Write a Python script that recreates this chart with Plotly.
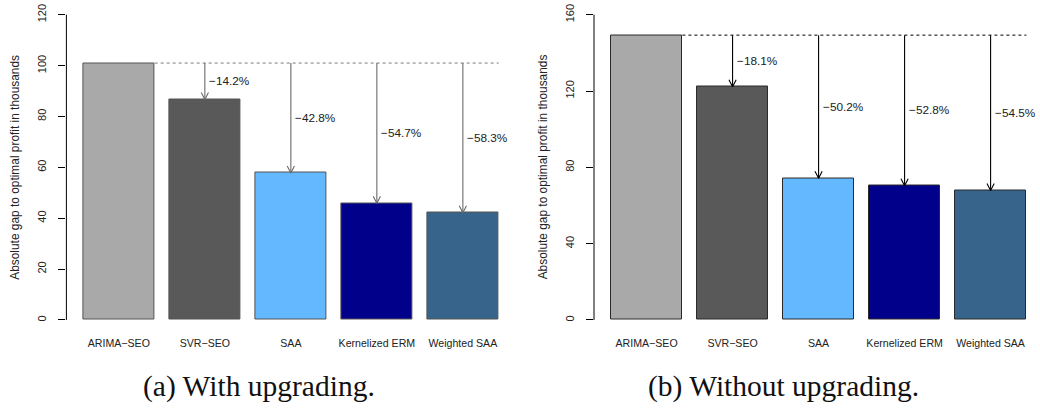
import plotly.graph_objects as go

# ---------------- data ----------------
categories = ["ARIMA\u2212SEO", "SVR\u2212SEO", "SAA", "Kernelized ERM", "Weighted SAA"]
values_a = [101.0, 86.7, 57.8, 45.9, 42.2]      # With upgrading
values_b = [149.3, 122.2, 74.3, 70.4, 67.9]     # Without upgrading
pct_a = ["\u221214.2%", "\u221242.8%", "\u221254.7%", "\u221258.3%"]
pct_b = ["\u221218.1%", "\u221250.2%", "\u221252.8%", "\u221254.5%"]
yticks_a = [0, 20, 40, 60, 80, 100, 120]
yticks_b = [0, 40, 80, 120, 160]
captions = ["(a) With upgrading.", "(b) Without upgrading."]
colors = ["#A9A9A9", "#595959", "#63B8FF", "#00008B", "#36648B"]

W, H = 1040, 419
PPU = 71.67                      # pixels per bar-unit (R barplot units)
xpos = [0.7 + 1.2 * i for i in range(len(categories))]

panels = [
    dict(vals=values_a, pct=pct_a, yt=yticks_a, dom=(66.4, 520.0), u0=68.67,
         yr=(-4.8, 124.8), line="#6a6a6a", dash="#7a7a7a", edge="#555555",
         cap=captions[0], capx=259),
    dict(vals=values_b, pct=pct_b, yt=yticks_b, dom=(594.0, 1040.0), u0=596.4,
         yr=(-6.4, 166.4), line="#000000", dash="#000000", edge="#2a2a2a",
         cap=captions[1], capx=783),
]

ytop_px, ybot_px = 2.5, 332.2
ydom = [(H - ybot_px) / H, (H - ytop_px) / H]
plot_h = ybot_px - ytop_px

fig = go.Figure()
annotations = []
shapes = []
layout_axes = {}

for k, p in enumerate(panels):
    sfx = "" if k == 0 else str(k + 1)
    xa, ya = "x" + sfx, "y" + sfx
    xr = [(p["dom"][0] - p["u0"]) / PPU, (p["dom"][1] - p["u0"]) / PPU]
    ppy = plot_h / (p["yr"][1] - p["yr"][0])   # px per y unit
    vals = p["vals"]
    top = vals[0]

    fig.add_trace(go.Bar(
        x=xpos, y=vals, width=1.0, xaxis=xa, yaxis=ya,
        marker=dict(color=colors, line=dict(color=p["edge"], width=1)),
        showlegend=False, hoverinfo="skip"))

    # dashed reference line at the ARIMA level
    fig.add_trace(go.Scatter(
        x=[xpos[0] + 0.5, xpos[-1] + 0.5], y=[top, top], mode="lines",
        line=dict(color=p["dash"], width=1, dash="3px,3px"),
        xaxis=xa, yaxis=ya, showlegend=False, hoverinfo="skip"))

    # arrows and percentage labels
    hw = 3.6 / PPU
    hl = 7.0 / ppy
    for i in range(1, len(vals)):
        cx, v = xpos[i], vals[i]
        fig.add_trace(go.Scatter(
            x=[cx, cx, None, cx - hw, cx, cx + hw],
            y=[top, v, None, v + hl, v, v + hl],
            mode="lines", line=dict(color=p["line"], width=1.1),
            xaxis=xa, yaxis=ya, showlegend=False, hoverinfo="skip"))
        annotations.append(dict(
            x=cx, y=(top + v) / 2, xref=xa, yref=ya, text=p["pct"][i - 1],
            showarrow=False, xanchor="left", yanchor="middle", xshift=2,
            font=dict(family="Liberation Sans, Arial", size=11.8, color="#222")))

    # y axis line from 0 to the last tick
    shapes.append(dict(type="line", xref=xa + " domain", yref=ya, x0=0, x1=0,
                       y0=p["yt"][0], y1=p["yt"][-1],
                       line=dict(color="black", width=1)))

    layout_axes["xaxis" + sfx] = dict(
        domain=[p["dom"][0] / W, p["dom"][1] / W], range=xr, anchor=ya,
        tickvals=xpos, ticktext=categories, ticks="", showline=False,
        showgrid=False, zeroline=False, ticklabelstandoff=3,
        tickfont=dict(family="Liberation Sans, Arial", size=10.6, color="#222"))
    layout_axes["yaxis" + sfx] = dict(
        domain=ydom, range=list(p["yr"]), anchor=xa, tickvals=p["yt"],
        ticks="outside", ticklen=7, tickwidth=1, tickcolor="black",
        tickangle=-90, showline=False, showgrid=False, zeroline=False,
        ticklabelstandoff=8,
        tickfont=dict(family="Liberation Sans, Arial", size=11, color="#222"))

    # y axis title
    annotations.append(dict(
        x=(p["dom"][0] - 51) / W, y=(H - (ytop_px + ybot_px) / 2) / H,
        xref="paper", yref="paper", text="Absolute gap to optimal profit in thousands",
        textangle=-90, showarrow=False, xanchor="center", yanchor="middle",
        font=dict(family="Liberation Sans, Arial", size=11.9, color="#222")))

    # caption
    annotations.append(dict(
        x=p["capx"] / W, y=(H - 386) / H, xref="paper", yref="paper",
        text=p["cap"], showarrow=False, xanchor="center", yanchor="middle",
        font=dict(family="Liberation Serif, Times New Roman, serif", size=29.5,
                  color="#111")))

fig.update_layout(
    width=W, height=H, margin=dict(l=0, r=0, t=0, b=0),
    paper_bgcolor="white", plot_bgcolor="white", bargap=0,
    annotations=annotations, shapes=shapes, **layout_axes)

fig.write_html("out.html")
